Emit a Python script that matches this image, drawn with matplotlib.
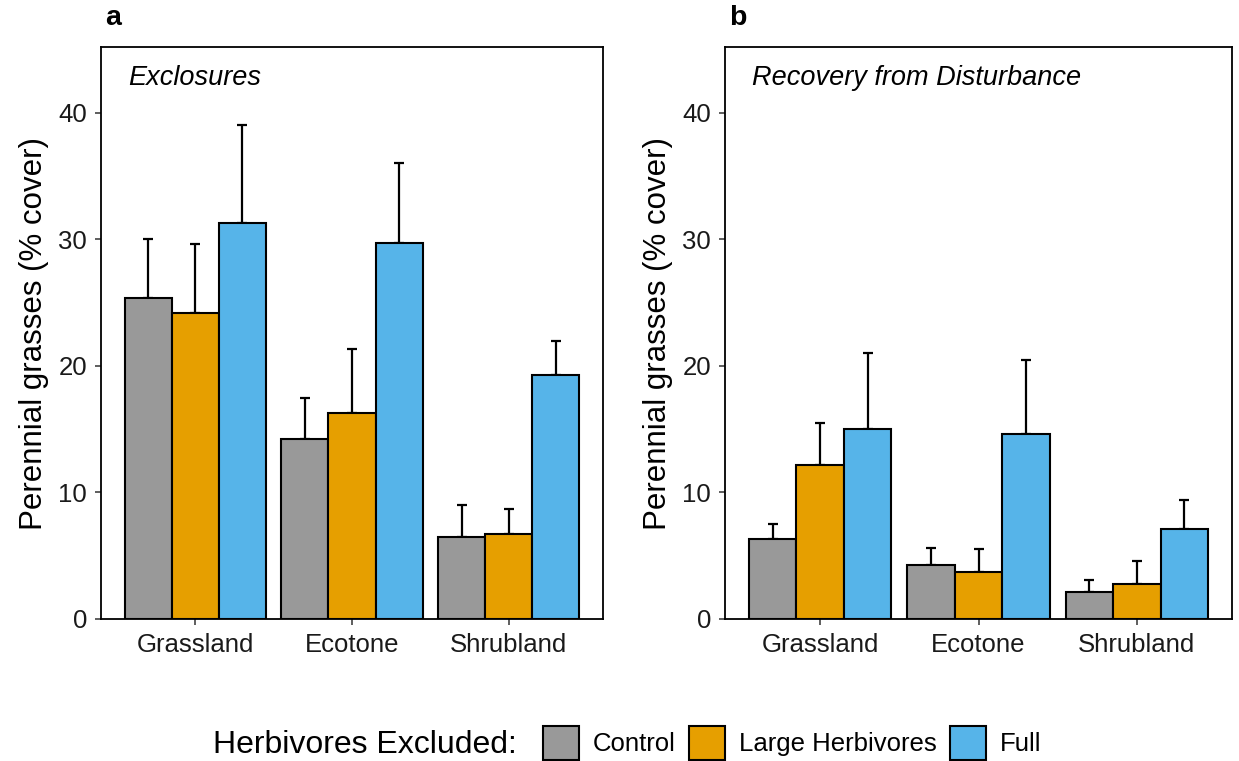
import numpy as np
import matplotlib
matplotlib.use("Agg")
import matplotlib.pyplot as plt
from matplotlib.patches import Patch

plt.rcParams['font.family'] = ['Liberation Sans', 'DejaVu Sans']

sites = ['Grassland', 'Ecotone', 'Shrubland']
treatments = ['Control', 'Large Herbivores', 'Full']
colors = ['#999999', '#E69F00', '#56B4E9']

# panel a: exclosures (mean, top of error bar)
excl_mean = [[25.4, 14.2, 6.5],
             [24.2, 16.3, 6.7],
             [31.3, 29.7, 19.3]]
excl_upper = [[30.0, 17.5, 9.0],
              [29.6, 21.3, 8.7],
              [39.0, 36.0, 22.0]]

# panel b: recovery from disturbance
rec_mean = [[6.3, 4.3, 2.1],
            [12.2, 3.7, 2.8],
            [15.0, 14.6, 7.1]]
rec_upper = [[7.5, 5.6, 3.1],
             [15.5, 5.5, 4.6],
             [21.0, 20.5, 9.4]]

fig = plt.figure(figsize=(12.39, 7.61), dpi=100)
W, H = 1239, 761
ax_a = fig.add_axes([101/W, (H-619)/H, (603-101)/W, (619-47)/H])
ax_b = fig.add_axes([725/W, (H-619)/H, (1232-725)/W, (619-47)/H])

x = np.arange(1, len(sites) + 1)
bw = 0.3


def draw_panel(ax, means, uppers, title, letter):
    for i, t in enumerate(treatments):
        xi = x + (i - 1) * bw
        m = np.array(means[i])
        u = np.array(uppers[i])
        ax.errorbar(xi, m, yerr=[np.zeros_like(m), u - m], fmt='none',
                    ecolor='black', elinewidth=1.6, capsize=3.5,
                    capthick=1.6, zorder=1)
        ax.bar(xi, m, width=bw, color=colors[i], edgecolor='black',
               linewidth=1.5, zorder=2)
    ax.set_xlim(0.4, 3.6)
    ax.set_ylim(0, 45.2)
    ax.set_xticks(x)
    ax.set_xticklabels(sites)
    ax.set_yticks([0, 10, 20, 30, 40])
    ax.tick_params(axis='both', length=4, width=1.1, color='#333333',
                   labelsize=18.5, labelcolor='#1a1a1a', pad=6)
    for s in ax.spines.values():
        s.set_linewidth(1.3)
        s.set_color('black')
    ax.set_ylabel('Perennial grasses (% cover)', fontsize=22.5, labelpad=7)
    ax.text(0.054, 0.946, title, transform=ax.transAxes, fontsize=19.5,
            style='italic', ha='left', va='center')
    ax.text(0.008, 1.05, letter, transform=ax.transAxes, fontsize=20.5,
            fontweight='bold', ha='left', va='center')


draw_panel(ax_a, excl_mean, excl_upper, 'Exclosures', 'a')
draw_panel(ax_b, rec_mean, rec_upper, 'Recovery from Disturbance', 'b')

fig.text(213/W, (H-745)/H, 'Herbivores Excluded:', fontsize=23,
         ha='left', va='center')
handles = [Patch(facecolor=c, edgecolor='black', linewidth=1.5) for c in colors]
fig.legend(handles, treatments, loc='center left',
           bbox_to_anchor=(543/W, (H-743)/H), ncol=3, frameon=False,
           fontsize=18.5, handlelength=1.4, handleheight=1.6,
           handletextpad=0.55, columnspacing=0.5, borderpad=0, borderaxespad=0)

fig.savefig('out.png', dpi=100)
